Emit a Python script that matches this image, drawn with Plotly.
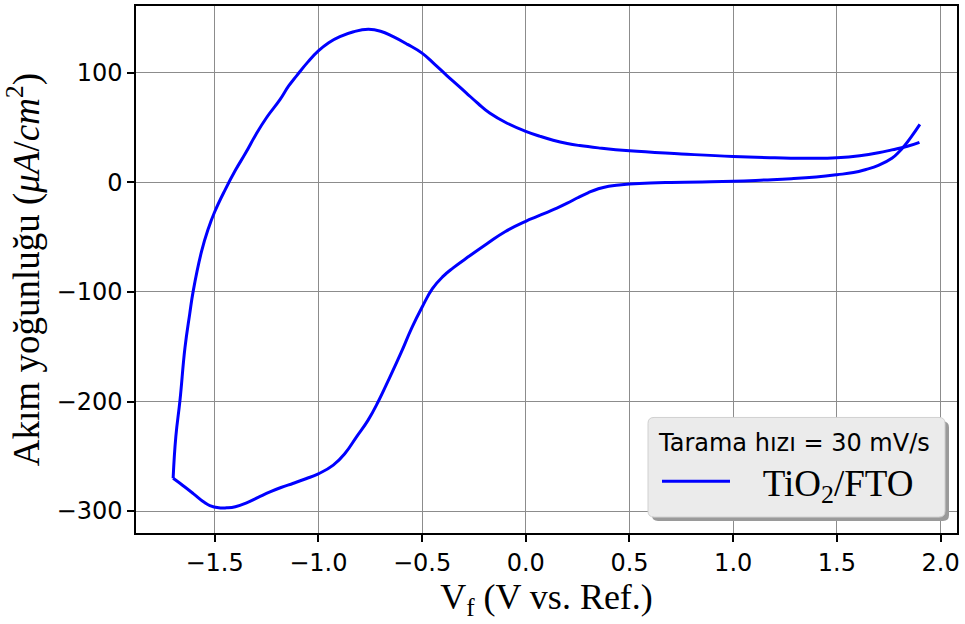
import plotly.graph_objects as go

# Cathodic (lower) branch: from +1.90 V towards -1.70 V
v_lower = [1.90, 1.86, 1.828, 1.80, 1.765, 1.70, 1.64, 1.58, 1.50, 1.40, 1.28, 1.15, 1.0,
           0.85, 0.70, 0.60, 0.50, 0.45, 0.40, 0.35, 0.30, 0.25, 0.20, 0.15, 0.10, 0.05,
           0.0, -0.10, -0.187, -0.27, -0.35, -0.40, -0.45, -0.50, -0.55, -0.60, -0.663,
           -0.711, -0.76, -0.815, -0.87, -0.928, -1.0, -1.06, -1.12, -1.18, -1.233, -1.29,
           -1.346, -1.40, -1.442, -1.48, -1.523, -1.55, -1.603, -1.667, -1.70]
i_lower = [53, 42, 34, 28, 22, 15.5, 11.8, 9, 7, 5, 3.4, 2.2, 1,
           0.4, 0, -0.5, -1.5, -2.3, -3.5, -5.8, -9.5, -14, -19, -23.5, -27.5, -31.5,
           -35.5, -45, -56, -67, -78, -86, -97, -114, -133, -155, -181,
           -200, -217, -232, -247, -258, -266, -270.5, -274.6, -278.5, -282.5, -287.5,
           -292.5, -296, -297, -297, -295, -292, -284, -274.6, -270]

# Anodic (upper) branch: from -1.70 V back to +1.90 V
v_upper = [-1.70, -1.687, -1.667, -1.643, -1.62, -1.603, -1.563, -1.53, -1.50, -1.45,
           -1.40, -1.35, -1.30, -1.25, -1.185, -1.143, -1.104, -1.05, -1.0, -0.95, -0.896,
           -0.83, -0.759, -0.70, -0.639, -0.57, -0.50, -0.44, -0.383, -0.33, -0.286, -0.23,
           -0.174, -0.09, 0.0, 0.07, 0.132, 0.20, 0.26, 0.35, 0.50, 0.75, 1.0, 1.2, 1.383,
           1.50, 1.61, 1.70, 1.765, 1.84, 1.898]
i_upper = [-270, -232, -199, -151, -120, -99, -63, -42, -27, -7,
           11, 27, 44, 59, 75.5, 88, 97.5, 110, 120, 127.5, 133,
           137.5, 139.7, 138, 133, 126, 118, 108, 98, 89, 81.5, 72,
           63.3, 54, 46.6, 42, 38.5, 35.5, 33.6, 31.5, 28.8, 26, 23.6, 22.5, 22,
           22.5, 24.3, 27, 29.7, 33, 36.6]

x_ticks = [-1.5, -1.0, -0.5, 0.0, 0.5, 1.0, 1.5, 2.0]
y_ticks = [-300, -200, -100, 0, 100]

series_name = "\u00a0\u00a0\u00a0TiO<sub>2</sub>/FTO"
legend_title = "Tarama hızı = 30 mV/s"

line_style = dict(color="#0000ff", width=3, shape="spline", smoothing=1.3)

fig = go.Figure()
fig.add_trace(go.Scatter(x=v_lower, y=i_lower, mode="lines", name=series_name,
                         legendgroup="a", showlegend=False, line=line_style))
fig.add_trace(go.Scatter(x=v_upper, y=i_upper, mode="lines", name=series_name,
                         legendgroup="a", showlegend=True, line=line_style))

W, H = 965, 624
ml, mr, mt, mb = 136, 8, 4, 91
pw, ph = W - ml - mr, H - mt - mb


def px2paper(x, y):
    return (x - ml) / pw, (H - mb - y) / ph


def rounded_path(x0, y0, x1, y1, r):
    def P(x, y):
        a, b = px2paper(x, y)
        return f"{a:.5f},{b:.5f}"
    return (f"M {P(x0 + r, y0)} L {P(x1 - r, y0)} Q {P(x1, y0)} {P(x1, y0 + r)} "
            f"L {P(x1, y1 - r)} Q {P(x1, y1)} {P(x1 - r, y1)} "
            f"L {P(x0 + r, y1)} Q {P(x0, y1)} {P(x0, y1 - r)} "
            f"L {P(x0, y0 + r)} Q {P(x0, y0)} {P(x0 + r, y0)} Z")


bx0, by0, bx1, by1 = 648, 417, 945, 517
shapes = [
    dict(type="path", xref="paper", yref="paper", path=rounded_path(bx0 + 4, by0 + 4, bx1 + 4, by1 + 4, 6),
         fillcolor="#9a9a9a", line=dict(width=0), layer="above"),
    dict(type="path", xref="paper", yref="paper", path=rounded_path(bx0, by0, bx1, by1, 6),
         fillcolor="#ebebeb", line=dict(color="#d0d0d0", width=1), layer="above"),
]

lx, ly = px2paper(657, by0 + 2)

fig.update_layout(
    width=W, height=H,
    margin=dict(l=ml, r=mr, t=mt, b=mb),
    plot_bgcolor="white", paper_bgcolor="white",
    shapes=shapes,
    showlegend=True,
    legend=dict(
        x=lx, y=ly, xanchor="left", yanchor="top",
        bgcolor="rgba(0,0,0,0)", borderwidth=0,
        title=dict(text=legend_title, side="top",
                   font=dict(family="DejaVu Sans", size=24, color="black")),
        font=dict(family="Liberation Serif", size=37, color="black"),
        itemwidth=68,
    ),
    xaxis=dict(
        range=[-1.879, 2.079], tickvals=x_ticks, tickformat=".1f",
        showgrid=True, gridcolor="#8c8c8c", gridwidth=1,
        showline=True, linecolor="black", linewidth=1.5, mirror=True,
        ticks="outside", ticklen=7, tickwidth=1.5, tickcolor="black",
        tickfont=dict(family="DejaVu Sans", size=24, color="black"),
        zeroline=False,
        title=dict(text="V<sub>f</sub> (V vs. Ref.)", standoff=6,
                   font=dict(family="Liberation Serif", size=36, color="black")),
    ),
    yaxis=dict(
        range=[-320, 161], tickvals=y_ticks,
        showgrid=True, gridcolor="#8c8c8c", gridwidth=1,
        showline=True, linecolor="black", linewidth=1.5, mirror=True,
        ticks="outside", ticklen=7, tickwidth=1.5, tickcolor="black",
        tickfont=dict(family="DejaVu Sans", size=24, color="black"),
        zeroline=False,
        title=dict(text="Akım yoğunluğu (<i>μA</i>/<i>cm</i><sup>2</sup>)", standoff=8,
                   font=dict(family="Liberation Serif", size=37, color="black")),
    ),
)

fig.write_html("out.html")
